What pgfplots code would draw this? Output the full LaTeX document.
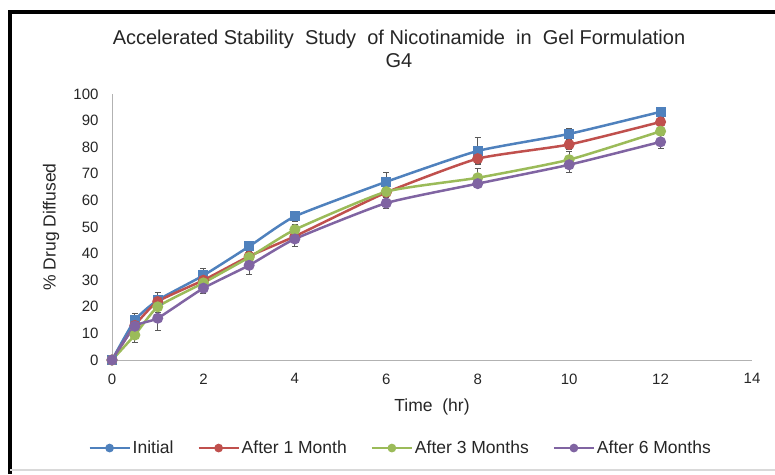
\documentclass[border=0pt]{standalone}
\usepackage{pgfplots}
\pgfplotsset{compat=1.18}
\usepackage{fontspec}
\setmainfont{Liberation Sans}

\definecolor{xlblue}{HTML}{4F81BD}
\definecolor{xlred}{HTML}{C0504D}
\definecolor{xlgreen}{HTML}{9BBB59}
\definecolor{xlpurple}{HTML}{8064A2}
\definecolor{txt}{HTML}{262626}

\pgfplotsset{
  errs/.style={
    error bars/.cd, y dir=both, y explicit,
    error bar style={black!65, line width=1pt},
    error mark options={rotate=90, mark size=3pt, black!65, line width=1pt},
  },
}

\begin{document}
\begin{tikzpicture}[x=1pt,y=1pt]
\useasboundingbox (0,0) rectangle (775,474);
% frame
\draw[line width=4pt] (10,0) -- (10,462) -- (775,462);
\draw[black!15, line width=1.5pt] (10,4) -- (775,4);
% title
\node[font=\fontsize{20}{22}\selectfont, text=txt] at (399,435) {Accelerated Stability\ \ Study\ \ of Nicotinamide\ \ in\ \ Gel Formulation};
\node[font=\fontsize{20}{22}\selectfont, text=txt] at (399,413) {G4};

\begin{axis}[
    at={(112pt,114pt)}, anchor=south west,
    scale only axis, width=640pt, height=266pt,
    xmin=0, xmax=14, ymin=0, ymax=100,
    xtick={0,2,...,14}, ytick={0,10,...,100},
    axis lines*=left,
    axis line style={black!30, line width=1pt},
    major tick length=0pt,
    clip=false,
    tick label style={font=\fontsize{15}{17}\selectfont, text=txt},
    xticklabel style={yshift=-10pt},
    yticklabel style={xshift=-10pt},
    /pgf/number format/assume math mode=true,
    xlabel={Time\ \ (hr)}, ylabel={\% Drug Diffused},
    label style={font=\fontsize{17.5}{20}\selectfont, text=txt},
    xlabel style={at={(axis description cs:0.5,-0.177)}, anchor=center},
    ylabel style={at={(axis description cs:-0.095,0.5)}, anchor=center},
    every axis plot/.append style={line width=2.5pt, mark size=4.2pt},
    legend columns=4,
    legend style={draw=none, at={(0.451,-0.331)}, anchor=center, text=txt,
        font=\fontsize{17.5}{20}\selectfont, /tikz/every even column/.append style={column sep=22pt}},
    legend image post style={mark=*, mark size=3.2pt},
    legend image code/.code={\draw[mark repeat=2, mark phase=2, line width=2.2pt] plot coordinates {(0pt,0pt) (20pt,0pt) (40pt,0pt)};},
]
\addplot[color=xlblue, mark=square*, mark size=3.8pt, smooth, tension=0.3, errs]
  table[x=x, y=y, y error=e] {
x y e
0 0 0
0.5 15 2.5
1 22.5 3
2 31.8 2.5
3 42.7 2
4 54 2
6 67 3.5
8 78.6 5
10 85 2
12 93.3 1
};
\addlegendentry{Initial}
\addplot[color=xlred, mark=*, smooth, tension=0.3, errs]
  table[x=x, y=y, y error=e] {
x y e
0 0 0
0.5 13 2
1 22 2
2 30 1.5
3 39 2
4 46.5 2
6 63 2
8 75.7 2
10 81 2
12 89.5 1.5
};
\addlegendentry{After 1 Month}
\addplot[color=xlgreen, mark=*, smooth, tension=0.3, errs]
  table[x=x, y=y, y error=e] {
x y e
0 0 0
0.5 9.4 3
1 20 2
2 29 1.5
3 38.6 2
4 49 2
6 63.3 2
8 68.5 3.5
10 75.3 3
12 86 1.5
};
\addlegendentry{After 3 Months}
\addplot[color=xlpurple, mark=*, smooth, tension=0.3, errs]
  table[x=x, y=y, y error=e] {
x y e
0 0 0
0.5 12.7 2
1 15.7 4.5
2 27 2
3 35.6 3.5
4 45.5 3
6 59 2
8 66.3 1.5
10 73.4 3
12 82 2.5
};
\addlegendentry{After 6 Months}
\end{axis}
\end{tikzpicture}
\end{document}
